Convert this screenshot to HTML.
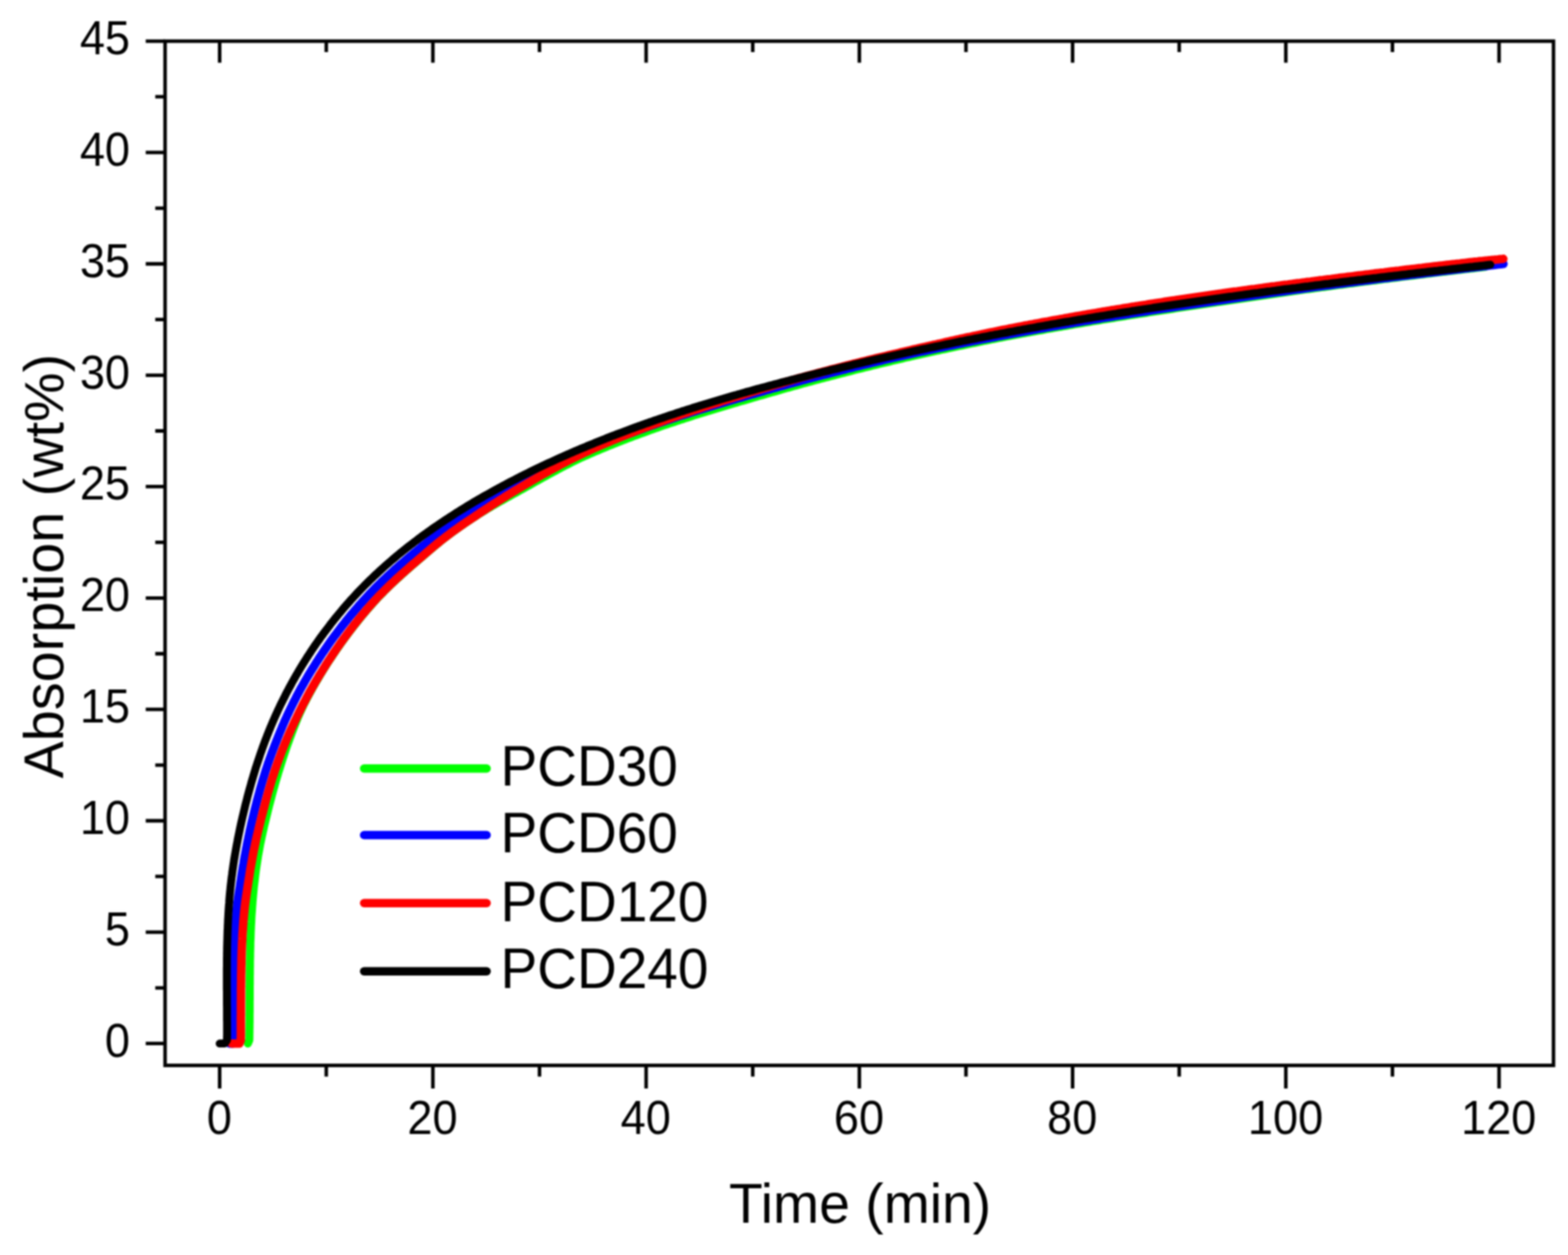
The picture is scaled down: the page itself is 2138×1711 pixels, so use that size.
<!DOCTYPE html>
<html lang="en"><head><meta charset="utf-8"><title>Absorption (wt%) vs Time (min)</title>
<style>
html,body{margin:0;padding:0;background:#fff;}
body{width:2138px;height:1711px;overflow:hidden;}
svg{display:block;}
text{font-family:"Liberation Sans",sans-serif;fill:#000;}
.tk{font-size:61.5px;}
.tt{font-size:75px;}
.lg{font-size:75px;}
.ax{stroke:#000;stroke-width:4.8;fill:none;}
.cv{fill:none;stroke-linejoin:round;stroke-linecap:round;}
</style></head><body>
<svg width="2138" height="1711" viewBox="0 0 2138 1711">
<rect x="0" y="0" width="2138" height="1711" fill="#ffffff"/>
<defs><filter id="soft" filterUnits="userSpaceOnUse" x="0" y="0" width="2138" height="1711" color-interpolation-filters="sRGB"><feGaussianBlur stdDeviation="0.8"/></filter></defs>
<g filter="url(#soft)">
<rect x="0" y="0" width="2138" height="1711" fill="#ffffff"/>

<g>
<path class="cv" stroke="#00ff00" stroke-width="11.0" d="M338.0,1422.7 L339.9,1418.2 L340.0,1414.7 L340.0,1411.1 L340.1,1407.6 L340.1,1404.1 L340.2,1400.6 L340.2,1397.1 L340.3,1393.6 L340.3,1390.1 L340.3,1386.6 L340.3,1383.1 L340.4,1379.6 L340.4,1376.1 L340.4,1372.6 L340.4,1369.2 L340.4,1365.7 L340.5,1362.2 L340.5,1358.7 L340.5,1355.3 L340.5,1351.8 L340.5,1348.3 L340.5,1344.9 L340.6,1341.4 L340.6,1338.0 L340.6,1334.5 L340.6,1331.1 L340.7,1327.6 L340.7,1324.2 L340.7,1320.8 L340.8,1317.3 L340.8,1313.9 L340.8,1310.5 L340.9,1307.1 L341.0,1303.7 L341.0,1300.2 L341.1,1296.8 L341.2,1293.4 L341.3,1290.0 L341.3,1286.6 L341.4,1283.2 L341.6,1279.8 L341.7,1276.5 L341.8,1273.1 L341.9,1269.7 L342.1,1266.3 L342.2,1263.0 L342.4,1259.6 L342.6,1256.2 L342.7,1252.9 L342.9,1249.5 L343.1,1246.2 L343.4,1242.8 L343.6,1239.5 L343.8,1236.2 L344.1,1232.8 L344.3,1229.5 L344.6,1226.2 L344.9,1222.9 L345.2,1219.6 L345.5,1216.2 L345.8,1212.9 L346.1,1209.6 L346.5,1206.3 L346.9,1203.1 L347.3,1199.8 L347.7,1196.5 L348.1,1193.2 L348.5,1189.9 L348.9,1186.6 L349.4,1183.3 L349.9,1180.0 L350.4,1176.7 L350.9,1173.4 L351.4,1170.1 L351.9,1166.8 L352.5,1163.5 L353.1,1160.2 L353.7,1156.9 L354.3,1153.6 L354.9,1150.3 L355.6,1147.0 L356.3,1143.7 L357.0,1140.4 L357.7,1137.2 L358.4,1133.9 L359.2,1130.6 L359.9,1127.3 L360.7,1124.0 L361.5,1120.7 L362.3,1117.5 L363.1,1114.2 L363.9,1110.9 L364.7,1107.6 L365.5,1104.3 L366.3,1101.1 L367.1,1097.8 L368.0,1094.5 L368.8,1091.3 L369.7,1088.0 L370.5,1084.8 L371.4,1081.5 L372.3,1078.3 L373.2,1075.1 L374.1,1071.9 L375.0,1068.6 L375.9,1065.4 L376.9,1062.2 L377.8,1059.0 L378.8,1055.8 L379.7,1052.6 L380.7,1049.5 L381.7,1046.3 L382.7,1043.1 L383.7,1039.9 L384.7,1036.8 L385.7,1033.6 L386.8,1030.5 L387.8,1027.3 L388.9,1024.2 L389.9,1021.1 L391.0,1017.9 L392.1,1014.8 L393.3,1011.7 L394.4,1008.6 L395.5,1005.5 L396.7,1002.4 L397.8,999.3 L399.0,996.2 L400.2,993.1 L401.4,990.0 L402.6,986.9 L403.8,983.9 L405.1,980.8 L406.3,977.7 L407.7,974.7 L409.0,971.6 L410.4,968.6 L411.8,965.6 L413.2,962.6 L414.7,959.6 L416.2,956.7 L417.7,953.7 L419.2,950.8 L420.8,947.8 L422.4,944.9 L424.0,942.0 L425.6,939.1 L427.2,936.2 L428.9,933.3 L430.5,930.4 L432.2,927.6 L433.9,924.7 L435.6,921.9 L437.3,919.0 L439.0,916.2 L440.8,913.4 L442.5,910.5 L444.3,907.7 L446.1,904.9 L447.9,902.1 L449.7,899.3 L451.5,896.6 L453.4,893.8 L455.2,891.0 L457.1,888.3 L459.0,885.5 L460.9,882.8 L462.8,880.1 L464.7,877.4 L466.6,874.7 L468.6,872.0 L470.6,869.3 L472.5,866.7 L474.5,864.0 L476.5,861.3 L478.5,858.7 L480.6,856.1 L482.6,853.4 L484.7,850.8 L486.7,848.2 L488.8,845.6 L490.9,843.0 L493.0,840.4 L495.1,837.9 L497.2,835.3 L499.4,832.8 L501.5,830.3 L503.7,827.8 L505.9,825.3 L508.1,822.8 L510.3,820.3 L512.6,817.9 L514.9,815.4 L517.1,813.0 L519.5,810.6 L521.8,808.3 L524.1,805.9 L526.5,803.6 L528.9,801.2 L531.2,798.9 L533.6,796.6 L536.1,794.3 L538.5,792.0 L540.9,789.7 L543.4,787.5 L545.9,785.2 L548.3,783.0 L550.8,780.8 L553.3,778.5 L555.8,776.3 L558.4,774.1 L560.9,771.9 L563.4,769.7 L566.0,767.5 L568.5,765.3 L571.1,763.1 L573.6,760.9 L576.2,758.7 L578.7,756.5 L581.3,754.3 L583.8,752.1 L586.4,749.9 L589.0,747.7 L591.6,745.5 L594.2,743.3 L596.8,741.2 L599.4,739.0 L602.1,736.9 L604.7,734.8 L607.4,732.7 L610.1,730.6 L612.9,728.6 L615.6,726.6 L618.4,724.6 L621.1,722.6 L623.9,720.6 L626.7,718.6 L629.5,716.6 L632.3,714.7 L635.1,712.8 L637.9,710.8 L640.8,708.9 L643.6,707.0 L646.5,705.2 L649.4,703.3 L652.2,701.4 L655.1,699.6 L658.0,697.8 L661.0,696.0 L663.9,694.2 L666.8,692.4 L669.8,690.7 L672.7,688.9 L675.7,687.2 L678.7,685.5 L681.7,683.8 L684.7,682.1 L687.6,680.4 L690.6,678.7 L693.6,677.1 L696.6,675.4 L699.7,673.7 L702.7,672.1 L705.7,670.4 L708.7,668.7 L711.7,667.1 L714.7,665.4 L717.7,663.7 L720.7,662.1 L723.7,660.4 L726.7,658.7 L729.7,657.0 L732.7,655.4 L735.8,653.7 L738.8,652.0 L741.8,650.3 L744.8,648.7 L747.8,647.0 L750.8,645.4 L753.9,643.7 L756.9,642.1 L759.9,640.4 L763.0,638.8 L766.0,637.2 L769.1,635.6 L772.1,634.0 L775.2,632.5 L778.3,630.9 L781.4,629.4 L784.5,627.9 L787.6,626.4 L790.7,624.9 L793.8,623.4 L796.9,622.0 L800.1,620.6 L803.2,619.2 L806.4,617.8 L809.6,616.5 L812.7,615.1 L815.9,613.8 L819.1,612.5 L822.3,611.2 L825.5,609.8 L828.7,608.5 L831.9,607.2 L835.1,606.0 L838.3,604.7 L841.5,603.4 L844.7,602.2 L847.9,600.9 L851.1,599.7 L854.3,598.4 L857.5,597.2 L860.8,596.0 L864.0,594.7 L867.2,593.5 L870.5,592.3 L873.7,591.1 L876.9,590.0 L880.2,588.8 L883.4,587.6 L886.7,586.4 L889.9,585.3 L893.2,584.1 L896.5,583.0 L899.7,581.9 L903.0,580.7 L906.2,579.6 L909.5,578.5 L912.8,577.4 L916.1,576.3 L919.3,575.2 L922.6,574.1 L925.9,573.0 L929.2,571.9 L932.5,570.9 L935.8,569.8 L939.1,568.7 L942.3,567.7 L945.6,566.6 L948.9,565.6 L952.2,564.5 L955.5,563.5 L958.8,562.5 L962.2,561.5 L965.5,560.4 L968.8,559.4 L972.1,558.4 L975.4,557.4 L978.7,556.4 L982.0,555.4 L985.3,554.4 L988.7,553.4 L992.0,552.5 L995.3,551.5 L998.6,550.5 L1002.0,549.5 L1005.3,548.6 L1008.6,547.6 L1011.9,546.6 L1015.3,545.7 L1018.6,544.7 L1021.9,543.7 L1025.2,542.7 L1028.6,541.8 L1031.9,540.8 L1035.2,539.8 L1038.6,538.9 L1041.9,537.9 L1045.2,536.9 L1048.6,536.0 L1051.9,535.0 L1055.2,534.1 L1058.6,533.1 L1061.9,532.2 L1065.2,531.2 L1068.6,530.3 L1071.9,529.3 L1075.3,528.4 L1078.6,527.4 L1081.9,526.5 L1085.3,525.6 L1088.6,524.7 L1092.0,523.7 L1095.3,522.8 L1098.7,521.9 L1102.0,521.0 L1105.4,520.1 L1108.7,519.2 L1112.1,518.3 L1115.5,517.4 L1118.8,516.5 L1122.2,515.7 L1125.5,514.8 L1128.9,513.9 L1132.2,513.0 L1135.6,512.1 L1139.0,511.3 L1142.3,510.4 L1145.7,509.5 L1149.0,508.6 L1152.4,507.8 L1155.8,506.9 L1159.1,506.1 L1162.5,505.2 L1165.9,504.3 L1169.2,503.5 L1172.6,502.6 L1176.0,501.8 L1179.3,501.0 L1182.7,500.1 L1186.1,499.3 L1189.4,498.5 L1192.8,497.6 L1196.2,496.8 L1199.6,496.0 L1202.9,495.2 L1206.3,494.4 L1209.7,493.6 L1213.1,492.8 L1216.4,492.0 L1219.8,491.2 L1223.2,490.4 L1226.6,489.6 L1230.0,488.8 L1233.3,488.0 L1236.7,487.2 L1240.1,486.5 L1243.5,485.7 L1246.9,484.9 L1250.3,484.2 L1253.7,483.4 L1257.0,482.7 L1260.4,481.9 L1263.8,481.2 L1267.2,480.4 L1270.6,479.7 L1274.0,478.9 L1277.4,478.2 L1280.8,477.5 L1284.2,476.7 L1287.6,476.0 L1291.0,475.3 L1294.4,474.5 L1297.8,473.8 L1301.2,473.1 L1304.6,472.4 L1308.0,471.7 L1311.4,471.0 L1314.8,470.3 L1318.2,469.6 L1321.6,468.9 L1325.0,468.2 L1328.4,467.5 L1331.8,466.8 L1335.2,466.1 L1338.6,465.4 L1342.0,464.7 L1345.4,464.0 L1348.8,463.4 L1352.2,462.7 L1355.6,462.0 L1359.0,461.4 L1362.4,460.7 L1365.8,460.0 L1369.2,459.4 L1372.6,458.7 L1376.1,458.1 L1379.5,457.4 L1382.9,456.8 L1386.3,456.2 L1389.7,455.5 L1393.1,454.9 L1396.5,454.3 L1400.0,453.6 L1403.4,453.0 L1406.8,452.4 L1410.2,451.8 L1413.6,451.2 L1417.0,450.6 L1420.5,450.0 L1423.9,449.3 L1427.3,448.7 L1430.7,448.1 L1434.1,447.5 L1437.6,446.9 L1441.0,446.3 L1444.4,445.7 L1447.8,445.2 L1451.3,444.6 L1454.7,444.0 L1458.1,443.4 L1461.5,442.8 L1464.9,442.2 L1468.4,441.6 L1471.8,441.1 L1475.2,440.5 L1478.6,439.9 L1482.1,439.3 L1485.5,438.8 L1488.9,438.2 L1492.4,437.6 L1495.8,437.1 L1499.2,436.5 L1502.6,435.9 L1506.1,435.4 L1509.5,434.8 L1512.9,434.3 L1516.4,433.7 L1519.8,433.2 L1523.2,432.6 L1526.6,432.1 L1530.1,431.5 L1533.5,431.0 L1536.9,430.4 L1540.4,429.9 L1543.8,429.4 L1547.2,428.8 L1550.7,428.3 L1554.1,427.7 L1557.5,427.2 L1561.0,426.7 L1564.4,426.2 L1567.8,425.6 L1571.3,425.1 L1574.7,424.6 L1578.1,424.1 L1581.6,423.5 L1585.0,423.0 L1588.5,422.5 L1591.9,422.0 L1595.3,421.5 L1598.8,421.0 L1602.2,420.4 L1605.6,419.9 L1609.1,419.4 L1612.5,418.9 L1616.0,418.4 L1619.4,417.9 L1622.8,417.4 L1626.3,416.9 L1629.7,416.3 L1633.1,415.8 L1636.6,415.3 L1640.0,414.8 L1643.5,414.3 L1646.9,413.8 L1650.3,413.3 L1653.8,412.8 L1657.2,412.3 L1660.6,411.7 L1664.1,411.2 L1667.5,410.7 L1671.0,410.2 L1674.4,409.7 L1677.8,409.2 L1681.3,408.7 L1684.7,408.2 L1688.2,407.7 L1691.6,407.2 L1695.0,406.7 L1698.5,406.2 L1701.9,405.7 L1705.4,405.2 L1708.8,404.7 L1712.2,404.2 L1715.7,403.7 L1719.1,403.2 L1722.6,402.7 L1726.0,402.2 L1729.4,401.7 L1732.9,401.2 L1736.3,400.7 L1739.8,400.2 L1743.2,399.7 L1746.6,399.2 L1750.1,398.7 L1753.5,398.2 L1757.0,397.8 L1760.4,397.3 L1763.9,396.8 L1767.3,396.3 L1770.8,395.8 L1774.2,395.4 L1777.6,394.9 L1781.1,394.4 L1784.5,394.0 L1788.0,393.5 L1791.4,393.0 L1794.9,392.6 L1798.3,392.1 L1801.8,391.6 L1805.2,391.2 L1808.7,390.7 L1812.1,390.3 L1815.5,389.8 L1819.0,389.3 L1822.4,388.9 L1825.9,388.4 L1829.3,388.0 L1832.8,387.5 L1836.2,387.1 L1839.7,386.6 L1843.1,386.2 L1846.6,385.7 L1850.0,385.3 L1853.5,384.8 L1856.9,384.4 L1860.4,383.9 L1863.8,383.5 L1867.3,383.1 L1870.7,382.6 L1874.2,382.2 L1877.6,381.7 L1881.1,381.3 L1884.5,380.8 L1888.0,380.4 L1891.4,380.0 L1894.8,379.5 L1898.3,379.1 L1901.7,378.7 L1905.2,378.2 L1908.6,377.8 L1912.1,377.4 L1915.5,376.9 L1919.0,376.5 L1922.4,376.1 L1925.9,375.7 L1929.3,375.2 L1932.8,374.8 L1936.2,374.4 L1939.7,374.0 L1943.1,373.5 L1946.6,373.1 L1950.0,372.7 L1953.5,372.3 L1956.9,371.9 L1960.4,371.4 L1963.8,371.0 L1967.3,370.6 L1970.7,370.2 L1974.2,369.8 L1977.6,369.4 L1981.1,369.0 L1984.5,368.5 L1988.0,368.1 L1991.4,367.7 L1994.9,367.3 L1998.3,366.9 L2001.8,366.5 L2005.3,366.1 L2008.7,365.7 L2012.2,365.3 L2015.6,364.9 L2019.1,364.5 L2022.5,364.1 L2024.8,363.8"/>
<path class="cv" stroke="#0000ff" stroke-width="11.6" d="M313.0,1422.7 L317.0,1422.7 L318.8,1418.0 L318.8,1414.6 L318.9,1411.1 L318.9,1407.6 L318.9,1404.1 L318.9,1400.6 L318.9,1397.1 L318.9,1393.6 L318.9,1390.2 L318.9,1386.7 L318.9,1383.2 L318.9,1379.7 L318.9,1376.2 L318.9,1372.8 L318.8,1369.3 L318.8,1365.8 L318.8,1362.3 L318.8,1358.8 L318.8,1355.4 L318.8,1351.9 L318.8,1348.4 L318.8,1345.0 L318.9,1341.5 L318.9,1338.0 L318.9,1334.5 L318.9,1331.1 L318.9,1327.6 L319.0,1324.1 L319.0,1320.7 L319.0,1317.2 L319.1,1313.8 L319.1,1310.3 L319.2,1306.8 L319.3,1303.4 L319.3,1299.9 L319.4,1296.5 L319.5,1293.0 L319.6,1289.6 L319.7,1286.1 L319.9,1282.7 L320.0,1279.2 L320.2,1275.8 L320.3,1272.3 L320.5,1268.9 L320.7,1265.5 L321.0,1262.0 L321.2,1258.6 L321.4,1255.2 L321.7,1251.8 L322.0,1248.3 L322.3,1244.9 L322.6,1241.5 L322.9,1238.1 L323.3,1234.7 L323.7,1231.3 L324.2,1227.9 L324.7,1224.5 L325.2,1221.1 L325.7,1217.7 L326.3,1214.3 L326.8,1211.0 L327.3,1207.6 L327.8,1204.2 L328.3,1200.8 L328.8,1197.5 L329.3,1194.1 L329.8,1190.7 L330.4,1187.3 L330.9,1184.0 L331.5,1180.6 L332.1,1177.2 L332.6,1173.9 L333.2,1170.5 L333.8,1167.1 L334.5,1163.8 L335.1,1160.4 L335.7,1157.0 L336.4,1153.7 L337.0,1150.3 L337.7,1146.9 L338.4,1143.6 L339.1,1140.2 L339.8,1136.9 L340.5,1133.5 L341.2,1130.2 L342.0,1126.8 L342.7,1123.5 L343.5,1120.1 L344.3,1116.8 L345.1,1113.4 L345.9,1110.1 L346.7,1106.7 L347.5,1103.4 L348.3,1100.1 L349.2,1096.7 L350.0,1093.4 L350.9,1090.1 L351.8,1086.8 L352.7,1083.5 L353.6,1080.2 L354.5,1076.8 L355.4,1073.6 L356.4,1070.3 L357.3,1067.0 L358.3,1063.7 L359.3,1060.4 L360.3,1057.2 L361.3,1053.9 L362.3,1050.6 L363.4,1047.4 L364.5,1044.2 L365.5,1040.9 L366.7,1037.7 L367.8,1034.5 L369.0,1031.3 L370.1,1028.1 L371.3,1024.9 L372.5,1021.7 L373.7,1018.6 L374.9,1015.4 L376.2,1012.2 L377.4,1009.1 L378.7,1005.9 L379.9,1002.8 L381.2,999.6 L382.5,996.5 L383.8,993.4 L385.1,990.2 L386.5,987.1 L387.8,984.0 L389.2,980.9 L390.6,977.8 L392.0,974.7 L393.5,971.6 L394.9,968.6 L396.4,965.5 L397.9,962.5 L399.4,959.4 L400.9,956.4 L402.5,953.3 L404.0,950.3 L405.6,947.3 L407.2,944.3 L408.8,941.3 L410.4,938.3 L412.1,935.4 L413.8,932.4 L415.4,929.5 L417.1,926.5 L418.8,923.6 L420.6,920.6 L422.3,917.7 L424.1,914.8 L425.9,911.9 L427.7,909.1 L429.5,906.2 L431.3,903.3 L433.2,900.5 L435.0,897.6 L436.9,894.8 L438.8,891.9 L440.7,889.1 L442.6,886.3 L444.5,883.5 L446.4,880.7 L448.4,877.9 L450.3,875.2 L452.3,872.4 L454.3,869.6 L456.3,866.9 L458.4,864.2 L460.4,861.5 L462.5,858.8 L464.5,856.1 L466.6,853.4 L468.7,850.7 L470.8,848.1 L472.9,845.4 L475.1,842.8 L477.2,840.2 L479.4,837.5 L481.6,834.9 L483.8,832.3 L486.0,829.8 L488.2,827.2 L490.4,824.6 L492.7,822.1 L494.9,819.6 L497.2,817.1 L499.5,814.6 L501.8,812.1 L504.2,809.6 L506.5,807.2 L508.9,804.7 L511.2,802.3 L513.6,799.9 L516.0,797.5 L518.5,795.1 L520.9,792.8 L523.4,790.4 L525.8,788.1 L528.3,785.8 L530.8,783.5 L533.3,781.2 L535.8,778.9 L538.3,776.6 L540.9,774.3 L543.4,772.1 L546.0,769.8 L548.6,767.6 L551.2,765.4 L553.8,763.2 L556.4,761.0 L559.0,758.8 L561.6,756.6 L564.2,754.4 L566.9,752.3 L569.5,750.1 L572.2,747.9 L574.8,745.8 L577.5,743.6 L580.2,741.5 L582.9,739.3 L585.6,737.2 L588.3,735.1 L591.0,733.0 L593.7,730.9 L596.4,728.8 L599.2,726.8 L602.0,724.7 L604.7,722.7 L607.5,720.7 L610.3,718.7 L613.1,716.7 L615.9,714.7 L618.7,712.7 L621.6,710.7 L624.4,708.7 L627.3,706.8 L630.1,704.8 L633.0,702.9 L635.9,701.0 L638.7,699.1 L641.6,697.2 L644.5,695.3 L647.4,693.4 L650.4,691.6 L653.3,689.7 L656.2,687.9 L659.2,686.0 L662.1,684.2 L665.1,682.4 L668.0,680.6 L671.0,678.7 L673.9,677.0 L676.9,675.2 L679.9,673.4 L682.9,671.6 L685.9,669.9 L688.9,668.2 L691.9,666.5 L694.9,664.8 L698.0,663.1 L701.0,661.4 L704.1,659.8 L707.1,658.2 L710.2,656.5 L713.3,654.9 L716.3,653.3 L719.4,651.7 L722.5,650.1 L725.6,648.6 L728.7,647.0 L731.8,645.5 L734.9,643.9 L738.0,642.4 L741.1,640.9 L744.2,639.3 L747.3,637.8 L750.4,636.3 L753.6,634.9 L756.7,633.4 L759.8,631.9 L763.0,630.5 L766.1,629.0 L769.3,627.6 L772.4,626.2 L775.6,624.7 L778.7,623.3 L781.9,621.9 L785.1,620.5 L788.2,619.2 L791.4,617.8 L794.6,616.4 L797.8,615.1 L801.0,613.7 L804.2,612.4 L807.4,611.1 L810.6,609.8 L813.8,608.5 L817.0,607.2 L820.2,605.9 L823.4,604.6 L826.6,603.3 L829.8,602.0 L833.0,600.8 L836.3,599.5 L839.5,598.3 L842.7,597.0 L845.9,595.8 L849.2,594.5 L852.4,593.3 L855.7,592.1 L858.9,590.9 L862.1,589.7 L865.4,588.5 L868.6,587.3 L871.9,586.1 L875.2,585.0 L878.4,583.8 L881.7,582.6 L884.9,581.5 L888.2,580.3 L891.5,579.2 L894.7,578.1 L898.0,576.9 L901.3,575.8 L904.6,574.7 L907.9,573.6 L911.1,572.5 L914.4,571.4 L917.7,570.3 L921.0,569.2 L924.3,568.1 L927.6,567.0 L930.9,566.0 L934.2,564.9 L937.5,563.9 L940.8,562.8 L944.1,561.8 L947.4,560.7 L950.7,559.7 L954.0,558.6 L957.3,557.6 L960.7,556.6 L964.0,555.6 L967.3,554.6 L970.6,553.6 L973.9,552.6 L977.3,551.6 L980.6,550.6 L983.9,549.6 L987.2,548.6 L990.6,547.6 L993.9,546.7 L997.2,545.7 L1000.6,544.7 L1003.9,543.8 L1007.2,542.8 L1010.6,541.9 L1013.9,540.9 L1017.3,539.9 L1020.6,539.0 L1023.9,538.0 L1027.3,537.1 L1030.6,536.1 L1034.0,535.2 L1037.3,534.2 L1040.6,533.3 L1044.0,532.3 L1047.3,531.4 L1050.7,530.4 L1054.0,529.5 L1057.4,528.6 L1060.7,527.6 L1064.1,526.7 L1067.4,525.8 L1070.8,524.9 L1074.1,523.9 L1077.5,523.0 L1080.8,522.1 L1084.2,521.2 L1087.5,520.3 L1090.9,519.4 L1094.2,518.5 L1097.6,517.6 L1101.0,516.7 L1104.3,515.9 L1107.7,515.0 L1111.1,514.1 L1114.4,513.2 L1117.8,512.4 L1121.1,511.5 L1124.5,510.6 L1127.9,509.8 L1131.2,508.9 L1134.6,508.0 L1138.0,507.2 L1141.3,506.3 L1144.7,505.5 L1148.1,504.6 L1151.5,503.8 L1154.8,502.9 L1158.2,502.1 L1161.6,501.3 L1164.9,500.4 L1168.3,499.6 L1171.7,498.8 L1175.1,497.9 L1178.4,497.1 L1181.8,496.3 L1185.2,495.5 L1188.6,494.7 L1192.0,493.9 L1195.3,493.1 L1198.7,492.3 L1202.1,491.5 L1205.5,490.7 L1208.9,489.9 L1212.3,489.1 L1215.6,488.3 L1219.0,487.6 L1222.4,486.8 L1225.8,486.0 L1229.2,485.3 L1232.6,484.5 L1236.0,483.8 L1239.4,483.0 L1242.8,482.3 L1246.2,481.6 L1249.6,480.8 L1253.0,480.1 L1256.4,479.4 L1259.8,478.7 L1263.2,478.0 L1266.6,477.2 L1270.0,476.5 L1273.4,475.8 L1276.8,475.1 L1280.2,474.4 L1283.6,473.7 L1287.0,473.0 L1290.4,472.3 L1293.8,471.6 L1297.2,471.0 L1300.6,470.3 L1304.0,469.6 L1307.4,468.9 L1310.8,468.2 L1314.2,467.6 L1317.6,466.9 L1321.0,466.2 L1324.4,465.6 L1327.9,464.9 L1331.3,464.2 L1334.7,463.6 L1338.1,462.9 L1341.5,462.3 L1344.9,461.6 L1348.3,461.0 L1351.7,460.3 L1355.1,459.7 L1358.6,459.0 L1362.0,458.4 L1365.4,457.7 L1368.8,457.1 L1372.2,456.5 L1375.6,455.8 L1379.1,455.2 L1382.5,454.6 L1385.9,454.0 L1389.3,453.3 L1392.7,452.7 L1396.1,452.1 L1399.6,451.5 L1403.0,450.9 L1406.4,450.2 L1409.8,449.6 L1413.2,449.0 L1416.7,448.4 L1420.1,447.8 L1423.5,447.2 L1426.9,446.6 L1430.3,446.0 L1433.8,445.4 L1437.2,444.8 L1440.6,444.2 L1444.0,443.6 L1447.5,443.0 L1450.9,442.5 L1454.3,441.9 L1457.7,441.3 L1461.2,440.7 L1464.6,440.1 L1468.0,439.6 L1471.4,439.0 L1474.9,438.4 L1478.3,437.8 L1481.7,437.3 L1485.2,436.7 L1488.6,436.1 L1492.0,435.6 L1495.4,435.0 L1498.9,434.5 L1502.3,433.9 L1505.7,433.3 L1509.2,432.8 L1512.6,432.2 L1516.0,431.7 L1519.5,431.1 L1522.9,430.6 L1526.3,430.0 L1529.8,429.5 L1533.2,429.0 L1536.6,428.4 L1540.1,427.9 L1543.5,427.3 L1546.9,426.8 L1550.4,426.3 L1553.8,425.7 L1557.2,425.2 L1560.7,424.7 L1564.1,424.2 L1567.5,423.6 L1571.0,423.1 L1574.4,422.6 L1577.8,422.1 L1581.3,421.5 L1584.7,421.0 L1588.2,420.5 L1591.6,420.0 L1595.0,419.5 L1598.5,419.0 L1601.9,418.5 L1605.3,418.0 L1608.8,417.4 L1612.2,416.9 L1615.7,416.4 L1619.1,415.9 L1622.5,415.4 L1626.0,414.9 L1629.4,414.4 L1632.9,413.9 L1636.3,413.4 L1639.7,412.9 L1643.2,412.4 L1646.6,411.9 L1650.1,411.4 L1653.5,410.9 L1656.9,410.4 L1660.4,409.9 L1663.8,409.4 L1667.3,408.9 L1670.7,408.4 L1674.1,407.9 L1677.6,407.4 L1681.0,406.9 L1684.5,406.4 L1687.9,405.9 L1691.4,405.4 L1694.8,404.9 L1698.2,404.4 L1701.7,403.9 L1705.1,403.4 L1708.6,402.9 L1712.0,402.5 L1715.4,402.0 L1718.9,401.5 L1722.3,401.0 L1725.8,400.5 L1729.2,400.0 L1732.7,399.6 L1736.1,399.1 L1739.6,398.6 L1743.0,398.1 L1746.4,397.7 L1749.9,397.2 L1753.3,396.7 L1756.8,396.2 L1760.2,395.8 L1763.7,395.3 L1767.1,394.8 L1770.6,394.4 L1774.0,393.9 L1777.5,393.4 L1780.9,393.0 L1784.3,392.5 L1787.8,392.1 L1791.2,391.6 L1794.7,391.1 L1798.1,390.7 L1801.6,390.2 L1805.0,389.8 L1808.5,389.3 L1811.9,388.9 L1815.4,388.4 L1818.8,388.0 L1822.3,387.6 L1825.7,387.1 L1829.2,386.7 L1832.6,386.2 L1836.1,385.8 L1839.5,385.3 L1843.0,384.9 L1846.4,384.5 L1849.9,384.0 L1853.3,383.6 L1856.8,383.2 L1860.2,382.7 L1863.7,382.3 L1867.1,381.9 L1870.6,381.4 L1874.0,381.0 L1877.5,380.6 L1880.9,380.1 L1884.4,379.7 L1887.8,379.3 L1891.3,378.9 L1894.7,378.4 L1898.2,378.0 L1901.6,377.6 L1905.1,377.2 L1908.5,376.7 L1912.0,376.3 L1915.4,375.9 L1918.9,375.5 L1922.3,375.0 L1925.8,374.6 L1929.2,374.2 L1932.7,373.8 L1936.1,373.4 L1939.6,373.0 L1943.0,372.5 L1946.5,372.1 L1949.9,371.7 L1953.4,371.3 L1956.8,370.9 L1960.3,370.5 L1963.7,370.0 L1967.2,369.6 L1970.6,369.2 L1974.1,368.8 L1977.5,368.4 L1981.0,368.0 L1984.4,367.6 L1987.9,367.2 L1991.3,366.7 L1994.8,366.3 L1998.2,365.9 L2001.7,365.5 L2005.1,365.1 L2008.6,364.7 L2012.0,364.3 L2015.5,363.9 L2018.9,363.5 L2022.4,363.1 L2025.8,362.7 L2029.3,362.2 L2032.7,361.8 L2036.2,361.4 L2039.6,361.0 L2043.1,360.6 L2046.5,360.2 L2050.0,359.8 L2050.0,359.8"/>
<path class="cv" stroke="#ff0000" stroke-width="11.6" d="M316.0,1422.7 L326.5,1422.7 L328.3,1418.1 L328.3,1414.6 L328.4,1411.1 L328.4,1407.6 L328.4,1404.1 L328.4,1400.6 L328.4,1397.1 L328.4,1393.6 L328.4,1390.1 L328.4,1386.6 L328.5,1383.2 L328.5,1379.7 L328.5,1376.2 L328.5,1372.7 L328.5,1369.2 L328.5,1365.8 L328.6,1362.3 L328.6,1358.8 L328.6,1355.3 L328.6,1351.9 L328.6,1348.4 L328.7,1344.9 L328.7,1341.5 L328.8,1338.0 L328.8,1334.5 L328.8,1331.1 L328.9,1327.6 L329.0,1324.2 L329.0,1320.7 L329.1,1317.3 L329.2,1313.8 L329.2,1310.4 L329.3,1306.9 L329.4,1303.5 L329.5,1300.1 L329.6,1296.6 L329.8,1293.2 L329.9,1289.8 L330.0,1286.4 L330.2,1282.9 L330.4,1279.5 L330.5,1276.1 L330.7,1272.7 L331.0,1269.3 L331.2,1265.9 L331.4,1262.5 L331.7,1259.1 L331.9,1255.7 L332.2,1252.3 L332.5,1248.9 L332.8,1245.6 L333.2,1242.2 L333.5,1238.8 L333.9,1235.4 L334.3,1232.1 L334.8,1228.7 L335.2,1225.4 L335.7,1222.0 L336.2,1218.7 L336.7,1215.4 L337.2,1212.0 L337.7,1208.7 L338.2,1205.4 L338.7,1202.1 L339.2,1198.8 L339.8,1195.4 L340.3,1192.1 L340.8,1188.8 L341.3,1185.5 L341.9,1182.2 L342.5,1178.8 L343.1,1175.5 L343.7,1172.2 L344.3,1168.9 L344.9,1165.6 L345.5,1162.3 L346.2,1158.9 L346.9,1155.6 L347.6,1152.3 L348.3,1149.0 L349.0,1145.7 L349.7,1142.4 L350.5,1139.1 L351.3,1135.8 L352.1,1132.5 L352.9,1129.2 L353.7,1125.9 L354.5,1122.6 L355.3,1119.3 L356.1,1116.0 L357.0,1112.7 L357.8,1109.4 L358.7,1106.1 L359.5,1102.9 L360.4,1099.6 L361.2,1096.3 L362.1,1093.0 L363.0,1089.7 L363.9,1086.5 L364.8,1083.2 L365.7,1080.0 L366.7,1076.7 L367.6,1073.5 L368.6,1070.3 L369.5,1067.0 L370.5,1063.8 L371.5,1060.6 L372.6,1057.4 L373.6,1054.2 L374.6,1051.0 L375.7,1047.8 L376.8,1044.7 L377.9,1041.5 L379.1,1038.4 L380.2,1035.2 L381.4,1032.1 L382.5,1029.0 L383.7,1025.8 L384.9,1022.7 L386.2,1019.6 L387.4,1016.5 L388.6,1013.5 L389.9,1010.4 L391.2,1007.3 L392.5,1004.3 L393.8,1001.2 L395.2,998.2 L396.5,995.1 L397.9,992.1 L399.3,989.1 L400.7,986.1 L402.1,983.1 L403.6,980.1 L405.0,977.1 L406.5,974.1 L407.9,971.1 L409.4,968.1 L410.9,965.2 L412.4,962.2 L413.9,959.2 L415.5,956.3 L417.0,953.3 L418.6,950.4 L420.1,947.5 L421.7,944.6 L423.3,941.6 L425.0,938.7 L426.6,935.9 L428.3,933.0 L429.9,930.1 L431.6,927.2 L433.3,924.4 L435.0,921.5 L436.8,918.7 L438.5,915.9 L440.3,913.0 L442.1,910.2 L443.8,907.4 L445.6,904.6 L447.4,901.8 L449.3,899.0 L451.1,896.3 L452.9,893.5 L454.8,890.7 L456.6,888.0 L458.5,885.2 L460.4,882.5 L462.3,879.8 L464.2,877.0 L466.2,874.3 L468.1,871.6 L470.1,869.0 L472.1,866.3 L474.1,863.6 L476.1,861.0 L478.1,858.3 L480.1,855.7 L482.1,853.0 L484.2,850.4 L486.3,847.8 L488.3,845.2 L490.4,842.6 L492.5,840.0 L494.6,837.5 L496.8,834.9 L498.9,832.4 L501.1,829.9 L503.3,827.3 L505.5,824.8 L507.7,822.4 L509.9,819.9 L512.2,817.5 L514.4,815.0 L516.7,812.6 L519.0,810.2 L521.4,807.8 L523.7,805.5 L526.1,803.1 L528.4,800.8 L530.8,798.5 L533.2,796.1 L535.7,793.9 L538.1,791.6 L540.5,789.3 L543.0,787.0 L545.5,784.8 L547.9,782.5 L550.4,780.3 L552.9,778.1 L555.5,775.9 L558.0,773.6 L560.5,771.4 L563.1,769.2 L565.6,767.1 L568.2,764.9 L570.7,762.7 L573.3,760.5 L575.8,758.3 L578.4,756.1 L580.9,753.9 L583.5,751.7 L586.1,749.5 L588.7,747.3 L591.3,745.1 L593.9,743.0 L596.5,740.8 L599.2,738.7 L601.8,736.6 L604.5,734.5 L607.2,732.4 L609.9,730.3 L612.6,728.3 L615.4,726.2 L618.1,724.2 L620.9,722.2 L623.7,720.3 L626.5,718.3 L629.3,716.3 L632.1,714.4 L634.9,712.4 L637.7,710.5 L640.6,708.6 L643.4,706.7 L646.3,704.8 L649.1,702.9 L652.0,701.0 L654.8,699.1 L657.7,697.2 L660.6,695.3 L663.5,693.5 L666.3,691.6 L669.2,689.7 L672.1,687.8 L675.0,686.0 L677.9,684.1 L680.8,682.3 L683.7,680.4 L686.7,678.6 L689.6,676.7 L692.5,674.9 L695.4,673.1 L698.4,671.3 L701.3,669.5 L704.3,667.7 L707.3,666.0 L710.2,664.2 L713.2,662.4 L716.2,660.7 L719.1,658.9 L722.1,657.2 L725.1,655.4 L728.1,653.7 L731.1,652.0 L734.1,650.2 L737.1,648.5 L740.1,646.8 L743.1,645.1 L746.1,643.4 L749.1,641.7 L752.2,640.1 L755.2,638.4 L758.2,636.8 L761.3,635.1 L764.3,633.5 L767.4,631.9 L770.5,630.3 L773.5,628.7 L776.6,627.1 L779.7,625.6 L782.8,624.0 L785.9,622.5 L789.0,621.0 L792.1,619.5 L795.2,618.0 L798.4,616.5 L801.5,615.1 L804.7,613.6 L807.8,612.2 L811.0,610.8 L814.1,609.4 L817.3,608.0 L820.5,606.7 L823.7,605.3 L826.8,603.9 L830.0,602.6 L833.2,601.2 L836.4,599.9 L839.6,598.6 L842.8,597.3 L846.0,596.0 L849.2,594.7 L852.4,593.4 L855.7,592.1 L858.9,590.9 L862.1,589.6 L865.3,588.3 L868.6,587.1 L871.8,585.8 L875.0,584.6 L878.3,583.4 L881.5,582.2 L884.8,580.9 L888.0,579.7 L891.2,578.5 L894.5,577.3 L897.8,576.2 L901.0,575.0 L904.3,573.8 L907.5,572.6 L910.8,571.4 L914.1,570.3 L917.3,569.1 L920.6,568.0 L923.9,566.9 L927.2,565.7 L930.4,564.6 L933.7,563.5 L937.0,562.4 L940.3,561.3 L943.6,560.2 L946.9,559.1 L950.2,558.0 L953.5,556.9 L956.8,555.8 L960.1,554.7 L963.4,553.7 L966.7,552.6 L970.0,551.5 L973.3,550.5 L976.6,549.4 L979.9,548.4 L983.2,547.3 L986.6,546.3 L989.9,545.3 L993.2,544.2 L996.5,543.2 L999.8,542.2 L1003.1,541.1 L1006.5,540.1 L1009.8,539.1 L1013.1,538.1 L1016.4,537.0 L1019.8,536.0 L1023.1,535.0 L1026.4,534.0 L1029.7,533.0 L1033.1,532.0 L1036.4,531.0 L1039.7,530.0 L1043.1,529.0 L1046.4,528.0 L1049.7,527.0 L1053.1,526.0 L1056.4,525.0 L1059.8,524.0 L1063.1,523.1 L1066.4,522.1 L1069.8,521.1 L1073.1,520.2 L1076.5,519.2 L1079.8,518.3 L1083.2,517.3 L1086.5,516.4 L1089.9,515.4 L1093.2,514.5 L1096.6,513.6 L1099.9,512.7 L1103.3,511.8 L1106.7,510.9 L1110.0,510.0 L1113.4,509.1 L1116.7,508.2 L1120.1,507.3 L1123.5,506.4 L1126.8,505.5 L1130.2,504.6 L1133.6,503.7 L1136.9,502.9 L1140.3,502.0 L1143.7,501.1 L1147.0,500.3 L1150.4,499.4 L1153.8,498.5 L1157.2,497.7 L1160.5,496.8 L1163.9,496.0 L1167.3,495.2 L1170.7,494.3 L1174.0,493.5 L1177.4,492.6 L1180.8,491.8 L1184.2,491.0 L1187.5,490.2 L1190.9,489.3 L1194.3,488.5 L1197.7,487.7 L1201.1,486.9 L1204.4,486.1 L1207.8,485.3 L1211.2,484.5 L1214.6,483.7 L1218.0,482.9 L1221.4,482.1 L1224.8,481.3 L1228.1,480.5 L1231.5,479.7 L1234.9,478.9 L1238.3,478.1 L1241.7,477.3 L1245.1,476.5 L1248.5,475.8 L1251.9,475.0 L1255.3,474.2 L1258.6,473.4 L1262.0,472.7 L1265.4,471.9 L1268.8,471.1 L1272.2,470.3 L1275.6,469.6 L1279.0,468.8 L1282.4,468.1 L1285.8,467.3 L1289.2,466.5 L1292.6,465.8 L1296.0,465.0 L1299.4,464.3 L1302.8,463.5 L1306.2,462.8 L1309.6,462.0 L1313.0,461.3 L1316.4,460.5 L1319.8,459.8 L1323.2,459.1 L1326.6,458.3 L1330.0,457.6 L1333.4,456.9 L1336.8,456.2 L1340.2,455.4 L1343.6,454.7 L1347.0,454.0 L1350.4,453.3 L1353.8,452.6 L1357.2,451.9 L1360.6,451.2 L1364.0,450.5 L1367.4,449.8 L1370.8,449.1 L1374.3,448.5 L1377.7,447.8 L1381.1,447.1 L1384.5,446.4 L1387.9,445.8 L1391.3,445.1 L1394.7,444.5 L1398.2,443.8 L1401.6,443.2 L1405.0,442.5 L1408.4,441.9 L1411.8,441.2 L1415.3,440.6 L1418.7,440.0 L1422.1,439.3 L1425.5,438.7 L1429.0,438.1 L1432.4,437.4 L1435.8,436.8 L1439.2,436.2 L1442.6,435.6 L1446.1,435.0 L1449.5,434.4 L1452.9,433.7 L1456.3,433.1 L1459.8,432.5 L1463.2,431.9 L1466.6,431.3 L1470.1,430.7 L1473.5,430.1 L1476.9,429.5 L1480.3,428.9 L1483.8,428.3 L1487.2,427.8 L1490.6,427.2 L1494.1,426.6 L1497.5,426.0 L1500.9,425.4 L1504.4,424.8 L1507.8,424.3 L1511.2,423.7 L1514.6,423.1 L1518.1,422.6 L1521.5,422.0 L1525.0,421.4 L1528.4,420.9 L1531.8,420.3 L1535.3,419.7 L1538.7,419.2 L1542.1,418.6 L1545.6,418.1 L1549.0,417.5 L1552.4,417.0 L1555.9,416.4 L1559.3,415.9 L1562.7,415.4 L1566.2,414.8 L1569.6,414.3 L1573.1,413.8 L1576.5,413.2 L1579.9,412.7 L1583.4,412.2 L1586.8,411.6 L1590.3,411.1 L1593.7,410.6 L1597.1,410.1 L1600.6,409.6 L1604.0,409.0 L1607.5,408.5 L1610.9,408.0 L1614.4,407.5 L1617.8,407.0 L1621.2,406.5 L1624.7,406.0 L1628.1,405.5 L1631.6,405.0 L1635.0,404.5 L1638.5,404.0 L1641.9,403.5 L1645.4,403.0 L1648.8,402.5 L1652.2,402.0 L1655.7,401.5 L1659.1,401.0 L1662.6,400.5 L1666.0,400.1 L1669.5,399.6 L1672.9,399.1 L1676.4,398.6 L1679.8,398.1 L1683.3,397.6 L1686.7,397.2 L1690.2,396.7 L1693.6,396.2 L1697.1,395.7 L1700.5,395.3 L1704.0,394.8 L1707.4,394.3 L1710.8,393.9 L1714.3,393.4 L1717.7,392.9 L1721.2,392.5 L1724.6,392.0 L1728.1,391.5 L1731.5,391.1 L1735.0,390.6 L1738.4,390.2 L1741.9,389.7 L1745.3,389.3 L1748.8,388.8 L1752.2,388.3 L1755.7,387.9 L1759.1,387.4 L1762.6,387.0 L1766.0,386.5 L1769.5,386.1 L1773.0,385.7 L1776.4,385.2 L1779.9,384.8 L1783.3,384.3 L1786.8,383.9 L1790.2,383.4 L1793.7,383.0 L1797.1,382.6 L1800.6,382.1 L1804.0,381.7 L1807.5,381.2 L1810.9,380.8 L1814.4,380.4 L1817.8,379.9 L1821.3,379.5 L1824.7,379.1 L1828.2,378.6 L1831.6,378.2 L1835.1,377.8 L1838.5,377.3 L1842.0,376.9 L1845.4,376.5 L1848.9,376.0 L1852.3,375.6 L1855.8,375.2 L1859.3,374.8 L1862.7,374.3 L1866.2,373.9 L1869.6,373.5 L1873.1,373.1 L1876.5,372.6 L1880.0,372.2 L1883.4,371.8 L1886.9,371.4 L1890.3,370.9 L1893.8,370.5 L1897.2,370.1 L1900.7,369.7 L1904.1,369.3 L1907.6,368.9 L1911.0,368.4 L1914.5,368.0 L1918.0,367.6 L1921.4,367.2 L1924.9,366.8 L1928.3,366.4 L1931.8,366.0 L1935.2,365.6 L1938.7,365.2 L1942.1,364.7 L1945.6,364.3 L1949.0,363.9 L1952.5,363.5 L1955.9,363.1 L1959.4,362.7 L1962.8,362.3 L1966.3,361.9 L1969.8,361.5 L1973.2,361.1 L1976.7,360.7 L1980.1,360.3 L1983.6,359.9 L1987.0,359.5 L1990.5,359.2 L1993.9,358.8 L1997.4,358.4 L2000.8,358.0 L2004.3,357.6 L2007.7,357.2 L2011.2,356.8 L2014.7,356.5 L2018.1,356.1 L2021.6,355.8 L2025.0,355.4 L2028.5,355.1 L2031.9,354.7 L2035.4,354.4 L2038.9,354.0 L2042.3,353.7 L2045.8,353.3 L2049.2,353.0 L2049.8,352.9"/>
<path class="cv" stroke="#000000" stroke-width="10.8" d="M299.5,1422.7 L306.5,1422.7 L309.5,1418.0 L309.5,1414.5 L309.6,1411.0 L309.6,1407.6 L309.6,1404.1 L309.6,1400.6 L309.6,1397.1 L309.6,1393.7 L309.5,1390.2 L309.5,1386.7 L309.5,1383.2 L309.5,1379.8 L309.5,1376.3 L309.5,1372.8 L309.4,1369.3 L309.4,1365.9 L309.4,1362.4 L309.4,1358.9 L309.4,1355.4 L309.4,1351.9 L309.3,1348.5 L309.3,1345.0 L309.3,1341.5 L309.3,1338.0 L309.3,1334.5 L309.3,1331.1 L309.3,1327.6 L309.3,1324.1 L309.3,1320.6 L309.4,1317.2 L309.4,1313.7 L309.4,1310.2 L309.4,1306.7 L309.5,1303.3 L309.5,1299.8 L309.6,1296.3 L309.6,1292.8 L309.7,1289.4 L309.8,1285.9 L309.9,1282.4 L310.0,1278.9 L310.1,1275.5 L310.2,1272.0 L310.3,1268.5 L310.5,1265.1 L310.6,1261.6 L310.8,1258.1 L310.9,1254.6 L311.1,1251.2 L311.3,1247.7 L311.5,1244.2 L311.7,1240.8 L312.0,1237.3 L312.2,1233.9 L312.5,1230.4 L312.7,1226.9 L313.0,1223.5 L313.3,1220.0 L313.6,1216.6 L314.0,1213.1 L314.3,1209.7 L314.7,1206.2 L315.1,1202.8 L315.5,1199.3 L315.9,1195.9 L316.4,1192.4 L316.8,1189.0 L317.3,1185.5 L317.8,1182.1 L318.3,1178.6 L318.8,1175.2 L319.3,1171.7 L319.9,1168.3 L320.5,1164.9 L321.1,1161.4 L321.7,1158.0 L322.3,1154.6 L322.9,1151.2 L323.6,1147.7 L324.2,1144.3 L324.9,1140.9 L325.6,1137.5 L326.3,1134.1 L327.0,1130.7 L327.7,1127.2 L328.5,1123.8 L329.2,1120.4 L330.0,1117.0 L330.8,1113.6 L331.6,1110.2 L332.4,1106.8 L333.2,1103.5 L334.0,1100.1 L334.8,1096.7 L335.7,1093.3 L336.6,1089.9 L337.4,1086.6 L338.3,1083.2 L339.2,1079.8 L340.1,1076.5 L341.1,1073.1 L342.0,1069.8 L342.9,1066.4 L343.9,1063.1 L344.9,1059.7 L345.9,1056.4 L346.9,1053.1 L347.9,1049.7 L348.9,1046.4 L350.0,1043.1 L351.1,1039.8 L352.2,1036.5 L353.3,1033.2 L354.4,1029.9 L355.5,1026.6 L356.7,1023.4 L357.8,1020.1 L359.0,1016.8 L360.2,1013.6 L361.4,1010.3 L362.7,1007.1 L363.9,1003.8 L365.2,1000.6 L366.5,997.3 L367.8,994.1 L369.1,990.9 L370.5,987.7 L371.8,984.5 L373.2,981.3 L374.6,978.1 L376.0,975.0 L377.5,971.8 L378.9,968.6 L380.4,965.5 L381.9,962.3 L383.4,959.2 L385.0,956.1 L386.5,953.0 L388.1,949.9 L389.6,946.8 L391.2,943.7 L392.9,940.6 L394.5,937.5 L396.2,934.5 L397.8,931.4 L399.5,928.4 L401.2,925.3 L402.9,922.3 L404.7,919.3 L406.4,916.3 L408.2,913.3 L410.0,910.3 L411.8,907.3 L413.6,904.4 L415.5,901.4 L417.3,898.5 L419.2,895.5 L421.1,892.6 L423.0,889.7 L424.9,886.8 L426.9,883.9 L428.8,881.0 L430.8,878.2 L432.8,875.3 L434.8,872.5 L436.8,869.6 L438.9,866.8 L440.9,864.0 L443.0,861.2 L445.1,858.4 L447.2,855.7 L449.3,852.9 L451.4,850.1 L453.6,847.4 L455.7,844.7 L457.9,842.0 L460.1,839.3 L462.3,836.6 L464.6,833.9 L466.8,831.3 L469.1,828.6 L471.3,826.0 L473.6,823.4 L475.9,820.8 L478.2,818.2 L480.6,815.6 L482.9,813.1 L485.3,810.5 L487.6,808.0 L490.0,805.5 L492.4,803.0 L494.9,800.5 L497.3,798.0 L499.7,795.6 L502.2,793.1 L504.7,790.7 L507.2,788.3 L509.7,785.9 L512.2,783.5 L514.7,781.2 L517.3,778.8 L519.8,776.5 L522.4,774.1 L525.0,771.8 L527.6,769.5 L530.2,767.2 L532.8,765.0 L535.4,762.7 L538.1,760.5 L540.8,758.2 L543.4,756.0 L546.1,753.8 L548.8,751.6 L551.5,749.4 L554.2,747.3 L556.9,745.1 L559.7,743.0 L562.4,740.9 L565.2,738.8 L568.0,736.7 L570.7,734.6 L573.5,732.5 L576.3,730.4 L579.1,728.4 L582.0,726.4 L584.8,724.3 L587.6,722.3 L590.5,720.3 L593.3,718.3 L596.2,716.4 L599.1,714.4 L602.0,712.4 L604.9,710.5 L607.8,708.6 L610.7,706.7 L613.6,704.8 L616.5,702.9 L619.5,701.0 L622.4,699.1 L625.4,697.2 L628.3,695.4 L631.3,693.6 L634.3,691.7 L637.2,689.9 L640.2,688.1 L643.2,686.3 L646.2,684.5 L649.2,682.8 L652.2,681.0 L655.3,679.3 L658.3,677.5 L661.3,675.8 L664.3,674.1 L667.4,672.4 L670.4,670.7 L673.5,669.0 L676.6,667.3 L679.6,665.6 L682.7,664.0 L685.8,662.3 L688.8,660.7 L691.9,659.0 L695.0,657.4 L698.1,655.8 L701.2,654.2 L704.3,652.6 L707.4,651.0 L710.5,649.4 L713.6,647.9 L716.7,646.3 L719.8,644.8 L723.0,643.2 L726.1,641.7 L729.2,640.2 L732.3,638.7 L735.5,637.2 L738.6,635.7 L741.8,634.2 L744.9,632.7 L748.1,631.2 L751.2,629.8 L754.4,628.3 L757.5,626.9 L760.7,625.4 L763.9,624.0 L767.0,622.6 L770.2,621.2 L773.4,619.8 L776.6,618.4 L779.8,617.0 L782.9,615.6 L786.1,614.3 L789.3,612.9 L792.5,611.5 L795.7,610.2 L798.9,608.9 L802.1,607.5 L805.3,606.2 L808.6,604.9 L811.8,603.6 L815.0,602.3 L818.2,601.0 L821.4,599.7 L824.7,598.4 L827.9,597.1 L831.1,595.9 L834.4,594.6 L837.6,593.4 L840.8,592.1 L844.1,590.9 L847.3,589.7 L850.6,588.4 L853.8,587.2 L857.1,586.0 L860.3,584.8 L863.6,583.6 L866.9,582.4 L870.1,581.2 L873.4,580.1 L876.7,578.9 L879.9,577.7 L883.2,576.6 L886.5,575.4 L889.8,574.3 L893.0,573.1 L896.3,572.0 L899.6,570.9 L902.9,569.8 L906.2,568.7 L909.5,567.5 L912.8,566.4 L916.1,565.3 L919.4,564.3 L922.7,563.2 L926.0,562.1 L929.3,561.0 L932.6,560.0 L935.9,558.9 L939.2,557.8 L942.5,556.8 L945.8,555.7 L949.2,554.7 L952.5,553.7 L955.8,552.6 L959.1,551.6 L962.5,550.6 L965.8,549.6 L969.1,548.6 L972.4,547.6 L975.8,546.6 L979.1,545.6 L982.4,544.6 L985.8,543.6 L989.1,542.6 L992.4,541.7 L995.8,540.7 L999.1,539.7 L1002.5,538.8 L1005.8,537.8 L1009.2,536.9 L1012.5,535.9 L1015.9,535.0 L1019.2,534.0 L1022.6,533.1 L1025.9,532.2 L1029.3,531.2 L1032.6,530.3 L1036.0,529.4 L1039.3,528.5 L1042.7,527.6 L1046.1,526.7 L1049.4,525.8 L1052.8,524.9 L1056.1,524.0 L1059.5,523.1 L1062.9,522.2 L1066.2,521.3 L1069.6,520.4 L1073.0,519.6 L1076.3,518.7 L1079.7,517.8 L1083.1,517.0 L1086.4,516.1 L1089.8,515.2 L1093.2,514.4 L1096.6,513.5 L1099.9,512.7 L1103.3,511.8 L1106.7,511.0 L1110.1,510.1 L1113.4,509.3 L1116.8,508.5 L1120.2,507.6 L1123.6,506.8 L1126.9,506.0 L1130.3,505.2 L1133.7,504.3 L1137.1,503.5 L1140.5,502.7 L1143.9,501.9 L1147.2,501.1 L1150.6,500.3 L1154.0,499.5 L1157.4,498.7 L1160.8,497.9 L1164.2,497.1 L1167.5,496.3 L1170.9,495.5 L1174.3,494.7 L1177.7,493.9 L1181.1,493.1 L1184.5,492.4 L1187.9,491.6 L1191.3,490.8 L1194.6,490.0 L1198.0,489.3 L1201.4,488.5 L1204.8,487.8 L1208.2,487.0 L1211.6,486.2 L1215.0,485.5 L1218.4,484.7 L1221.8,484.0 L1225.2,483.2 L1228.6,482.5 L1232.0,481.8 L1235.4,481.0 L1238.8,480.3 L1242.2,479.6 L1245.6,478.8 L1249.0,478.1 L1252.4,477.4 L1255.8,476.6 L1259.2,475.9 L1262.6,475.2 L1266.0,474.5 L1269.4,473.8 L1272.8,473.1 L1276.2,472.4 L1279.6,471.7 L1283.0,471.0 L1286.4,470.3 L1289.8,469.6 L1293.2,468.9 L1296.6,468.2 L1300.0,467.5 L1303.4,466.8 L1306.8,466.1 L1310.2,465.4 L1313.7,464.8 L1317.1,464.1 L1320.5,463.4 L1323.9,462.7 L1327.3,462.1 L1330.7,461.4 L1334.1,460.7 L1337.5,460.1 L1340.9,459.4 L1344.4,458.7 L1347.8,458.1 L1351.2,457.4 L1354.6,456.8 L1358.0,456.1 L1361.4,455.5 L1364.8,454.8 L1368.3,454.2 L1371.7,453.6 L1375.1,452.9 L1378.5,452.3 L1381.9,451.7 L1385.3,451.0 L1388.8,450.4 L1392.2,449.8 L1395.6,449.1 L1399.0,448.5 L1402.4,447.9 L1405.9,447.3 L1409.3,446.7 L1412.7,446.1 L1416.1,445.4 L1419.6,444.8 L1423.0,444.2 L1426.4,443.6 L1429.8,443.0 L1433.2,442.4 L1436.7,441.8 L1440.1,441.2 L1443.5,440.6 L1446.9,440.0 L1450.4,439.4 L1453.8,438.8 L1457.2,438.3 L1460.7,437.7 L1464.1,437.1 L1467.5,436.5 L1470.9,435.9 L1474.4,435.4 L1477.8,434.8 L1481.2,434.2 L1484.6,433.6 L1488.1,433.1 L1491.5,432.5 L1494.9,431.9 L1498.4,431.4 L1501.8,430.8 L1505.2,430.3 L1508.7,429.7 L1512.1,429.1 L1515.5,428.6 L1519.0,428.0 L1522.4,427.5 L1525.8,426.9 L1529.3,426.4 L1532.7,425.8 L1536.1,425.3 L1539.6,424.8 L1543.0,424.2 L1546.4,423.7 L1549.9,423.1 L1553.3,422.6 L1556.7,422.1 L1560.2,421.5 L1563.6,421.0 L1567.1,420.5 L1570.5,420.0 L1573.9,419.4 L1577.4,418.9 L1580.8,418.4 L1584.2,417.9 L1587.7,417.4 L1591.1,416.8 L1594.6,416.3 L1598.0,415.8 L1601.4,415.3 L1604.9,414.8 L1608.3,414.3 L1611.8,413.8 L1615.2,413.3 L1618.6,412.8 L1622.1,412.3 L1625.5,411.8 L1629.0,411.3 L1632.4,410.8 L1635.9,410.3 L1639.3,409.8 L1642.7,409.3 L1646.2,408.8 L1649.6,408.3 L1653.1,407.8 L1656.5,407.3 L1660.0,406.8 L1663.4,406.4 L1666.8,405.9 L1670.3,405.4 L1673.7,404.9 L1677.2,404.4 L1680.6,404.0 L1684.1,403.5 L1687.5,403.0 L1691.0,402.5 L1694.4,402.1 L1697.9,401.6 L1701.3,401.1 L1704.7,400.7 L1708.2,400.2 L1711.6,399.7 L1715.1,399.3 L1718.5,398.8 L1722.0,398.3 L1725.4,397.9 L1728.9,397.4 L1732.3,397.0 L1735.8,396.5 L1739.2,396.1 L1742.7,395.6 L1746.1,395.2 L1749.6,394.7 L1753.0,394.2 L1756.5,393.8 L1759.9,393.4 L1763.4,392.9 L1766.8,392.5 L1770.3,392.0 L1773.7,391.6 L1777.2,391.1 L1780.6,390.7 L1784.1,390.3 L1787.5,389.8 L1791.0,389.4 L1794.4,388.9 L1797.9,388.5 L1801.3,388.1 L1804.8,387.6 L1808.2,387.2 L1811.7,386.8 L1815.1,386.3 L1818.6,385.9 L1822.0,385.5 L1825.5,385.1 L1828.9,384.6 L1832.4,384.2 L1835.8,383.8 L1839.3,383.4 L1842.7,382.9 L1846.2,382.5 L1849.6,382.1 L1853.1,381.7 L1856.5,381.3 L1860.0,380.8 L1863.4,380.4 L1866.9,380.0 L1870.3,379.6 L1873.8,379.2 L1877.2,378.8 L1880.7,378.3 L1884.2,377.9 L1887.6,377.5 L1891.1,377.1 L1894.5,376.7 L1898.0,376.3 L1901.4,375.9 L1904.9,375.5 L1908.3,375.1 L1911.8,374.7 L1915.2,374.3 L1918.7,373.9 L1922.1,373.4 L1925.6,373.0 L1929.0,372.6 L1932.5,372.2 L1935.9,371.8 L1939.4,371.4 L1942.9,371.0 L1946.3,370.6 L1949.8,370.2 L1953.2,369.8 L1956.7,369.4 L1960.1,369.1 L1963.6,368.7 L1967.0,368.3 L1970.5,367.9 L1973.9,367.5 L1977.4,367.1 L1980.8,366.7 L1984.3,366.3 L1987.7,365.9 L1991.2,365.5 L1994.6,365.1 L1998.1,364.7 L2001.6,364.3 L2005.0,363.9 L2008.5,363.6 L2011.9,363.2 L2015.4,362.8 L2018.8,362.4 L2022.3,362.0 L2025.7,361.6 L2029.2,361.2 L2032.1,360.9"/>
</g>
<rect class="ax" x="225.1" y="56.1" width="1893.1" height="1396.4"/>
<path class="ax" d="M299.50,1452.5 v31.5 M299.50,56.1 v29.5 M444.88,1452.5 v15.2 M444.88,56.1 v15.0 M590.25,1452.5 v31.5 M590.25,56.1 v29.5 M735.62,1452.5 v15.2 M735.62,56.1 v15.0 M881.00,1452.5 v31.5 M881.00,56.1 v29.5 M1026.38,1452.5 v15.2 M1026.38,56.1 v15.0 M1171.75,1452.5 v31.5 M1171.75,56.1 v29.5 M1317.12,1452.5 v15.2 M1317.12,56.1 v15.0 M1462.50,1452.5 v31.5 M1462.50,56.1 v29.5 M1607.88,1452.5 v15.2 M1607.88,56.1 v15.0 M1753.25,1452.5 v31.5 M1753.25,56.1 v29.5 M1898.62,1452.5 v15.2 M1898.62,56.1 v15.0 M2044.00,1452.5 v31.5 M2044.00,56.1 v29.5 M225.1,1422.70 h-26.4 M225.1,1346.78 h-13.4 M225.1,1270.85 h-26.4 M225.1,1194.92 h-13.4 M225.1,1119.00 h-26.4 M225.1,1043.08 h-13.4 M225.1,967.15 h-26.4 M225.1,891.23 h-13.4 M225.1,815.30 h-26.4 M225.1,739.38 h-13.4 M225.1,663.45 h-26.4 M225.1,587.52 h-13.4 M225.1,511.60 h-26.4 M225.1,435.68 h-13.4 M225.1,359.75 h-26.4 M225.1,283.83 h-13.4 M225.1,207.90 h-26.4 M225.1,131.97 h-13.4 M225.1,56.10 h-26.4"/>
<g class="tk" text-anchor="middle">
<text transform="translate(299.0,1546.2) scale(1,1.04)">0</text>
<text transform="translate(589.8,1546.2) scale(1,1.04)">20</text>
<text transform="translate(880.5,1546.2) scale(1,1.04)">40</text>
<text transform="translate(1171.2,1546.2) scale(1,1.04)">60</text>
<text transform="translate(1462.0,1546.2) scale(1,1.04)">80</text>
<text transform="translate(1752.8,1546.2) scale(1,1.04)">100</text>
<text transform="translate(2043.5,1546.2) scale(1,1.04)">120</text>
</g>
<g class="tk" text-anchor="end">
<text transform="translate(177.3,1440.6) scale(1,1.04)">0</text>
<text transform="translate(177.3,1288.8) scale(1,1.04)">5</text>
<text transform="translate(177.3,1136.9) scale(1,1.04)">10</text>
<text transform="translate(177.3,985.1) scale(1,1.04)">15</text>
<text transform="translate(177.3,833.2) scale(1,1.04)">20</text>
<text transform="translate(177.3,681.4) scale(1,1.04)">25</text>
<text transform="translate(177.3,529.5) scale(1,1.04)">30</text>
<text transform="translate(177.3,377.6) scale(1,1.04)">35</text>
<text transform="translate(177.3,225.8) scale(1,1.04)">40</text>
<text transform="translate(177.3,74.0) scale(1,1.04)">45</text>
</g>
<text class="tt" text-anchor="middle" x="1172.8" y="1666.8" style="font-size:75.4px">Time (min)</text>
<text class="tt" text-anchor="middle" transform="translate(86,771.8) rotate(-90)" style="font-size:76px">Absorption (wt%)</text>
<path d="M496.5,1047.75 H663.5" stroke="#00ff00" stroke-width="11.5" stroke-linecap="round" fill="none"/>
<text class="lg" transform="translate(682.6,1071) scale(1,1.04)">PCD30</text>
<path d="M496.5,1138.5 H663.5" stroke="#0000ff" stroke-width="11.5" stroke-linecap="round" fill="none"/>
<text class="lg" transform="translate(682.6,1162.3) scale(1,1.04)">PCD60</text>
<path d="M496.5,1231.25 H663.5" stroke="#ff0000" stroke-width="11.5" stroke-linecap="round" fill="none"/>
<text class="lg" transform="translate(682.6,1255.8) scale(1,1.04)">PCD120</text>
<path d="M496.5,1324.25 H663.5" stroke="#000000" stroke-width="11.5" stroke-linecap="round" fill="none"/>
<text class="lg" transform="translate(682.6,1347.3) scale(1,1.04)">PCD240</text>
</g>
</svg>
</body></html>
